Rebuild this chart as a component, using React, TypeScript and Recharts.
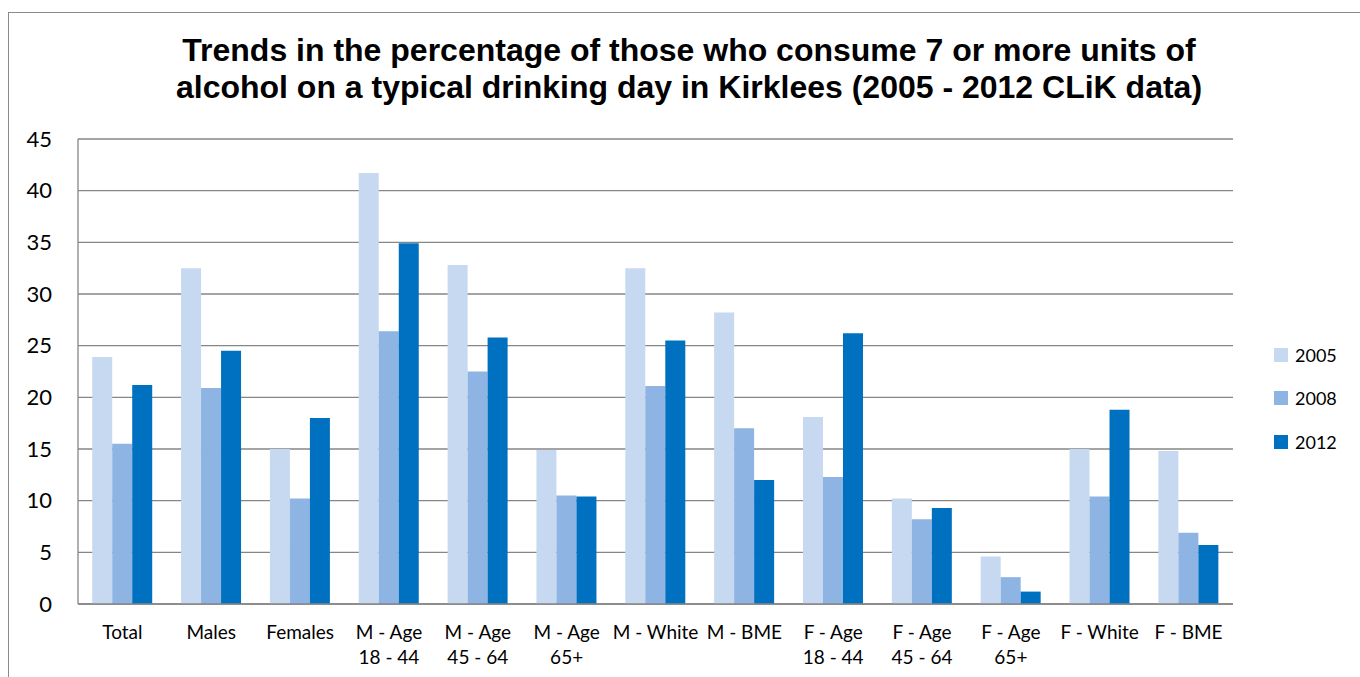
import React from 'react';
import { BarChart, Bar, XAxis, YAxis, CartesianGrid, Legend } from 'recharts';

const categories: string[] = [
  'Total',
  'Males',
  'Females',
  'M - Age\n18 - 44',
  'M - Age\n45 - 64',
  'M - Age\n65+',
  'M - White',
  'M - BME',
  'F - Age\n18 - 44',
  'F - Age\n45 - 64',
  'F - Age\n65+',
  'F - White',
  'F - BME',
];

const values2005: number[] = [23.9, 32.5, 15.0, 41.7, 32.8, 14.9, 32.5, 28.2, 18.1, 10.2, 4.6, 15.0, 14.8];
const values2008: number[] = [15.5, 20.9, 10.2, 26.4, 22.5, 10.5, 21.1, 17.0, 12.3, 8.2, 2.6, 10.4, 6.9];
const values2012: number[] = [21.2, 24.5, 18.0, 34.9, 25.8, 10.4, 25.5, 12.0, 26.2, 9.3, 1.2, 18.8, 5.7];

const seriesNames: string[] = ['2005', '2008', '2012'];
const seriesColors: string[] = ['#C6D9F1', '#8EB4E3', '#0070C0'];
const yTicks: number[] = [0, 5, 10, 15, 20, 25, 30, 35, 40, 45];

const titleLines: string[] = [
  'Trends in the percentage of those who consume 7 or more units of',
  'alcohol on a typical drinking day in Kirklees (2005 - 2012 CLiK data)',
];

const data = categories.map((c, i) => ({
  name: c,
  '2005': values2005[i],
  '2008': values2008[i],
  '2012': values2012[i],
}));

const LABEL_FONT = 'Lato, "Open Sans", sans-serif';

const XTick = (props: any) => {
  const { x, y, payload } = props;
  const lines = String(payload.value).split('\n');
  return (
    <text textAnchor="middle" fontFamily={LABEL_FONT} fontSize={19} fill="#000">
      {lines.map((l, i) => (
        <tspan key={i} x={x} y={y + 35 + i * 25}>
          {l}
        </tspan>
      ))}
    </text>
  );
};

const LegendContent = () => (
  <div style={{ display: 'flex', flexDirection: 'column' }}>
    {seriesNames.map((n, i) => (
      <div
        key={n}
        style={{ display: 'flex', alignItems: 'center', height: 43.5, fontFamily: LABEL_FONT, fontSize: 18, color: '#000' }}
      >
        <div style={{ width: 14, height: 14, background: seriesColors[i], marginRight: 7 }} />
        <span>{n}</span>
      </div>
    ))}
  </div>
);

export default function App() {
  return (
    <div
      style={{
        position: 'absolute',
        left: 0,
        top: 0,
        width: 1360,
        height: 677,
        overflow: 'hidden',
        background: '#fff',
      }}
    >
      <div
        style={{
          position: 'absolute',
          left: 8,
          top: 12,
          width: 2000,
          height: 2000,
          borderLeft: '1px solid #8a8a8a',
          borderTop: '1px solid #8a8a8a',
        }}
      />
      <div
        style={{
          position: 'absolute',
          left: 89,
          width: 1200,
          top: 32,
          textAlign: 'center',
          fontFamily: '"Liberation Sans", Arial, sans-serif',
          fontWeight: 'bold',
          fontSize: 32,
          lineHeight: '37px',
          color: '#000',
          whiteSpace: 'nowrap',
        }}
      >
        {titleLines.map((t) => (
          <div key={t}>{t}</div>
        ))}
      </div>
      <div style={{ position: 'absolute', left: 0, top: 0 }}>
        <BarChart
          width={1360}
          height={677}
          data={data}
          margin={{ top: 139, right: 127, bottom: 0, left: 0 }}
          barCategoryGap="16%"
          barGap={0}
        >
          <CartesianGrid vertical={false} stroke="#868686" strokeWidth={1.3} />
          <XAxis
            dataKey="name"
            interval={0}
            tickLine={false}
            tickSize={0}
            tickMargin={0}
            axisLine={{ stroke: '#868686', strokeWidth: 1.3 }}
            tick={<XTick />}
            height={73}
          />
          <YAxis
            width={78}
            domain={[0, 45]}
            ticks={yTicks}
            interval={0}
            tickLine={false}
            tickSize={0}
            tickMargin={26}
            axisLine={{ stroke: '#868686', strokeWidth: 1.3 }}
            tick={{ fontFamily: LABEL_FONT, fontSize: 22, fill: '#000' }}
          />
          {seriesNames.map((n, i) => (
            <Bar key={n} dataKey={n} fill={seriesColors[i]} isAnimationActive={false} />
          ))}
          <Legend
            layout="horizontal"
            verticalAlign="middle"
            align="center"
            content={<LegendContent />}
            wrapperStyle={{ position: 'absolute', left: 1274, top: 333, width: 80 }}
          />
        </BarChart>
      </div>
    </div>
  );
}
